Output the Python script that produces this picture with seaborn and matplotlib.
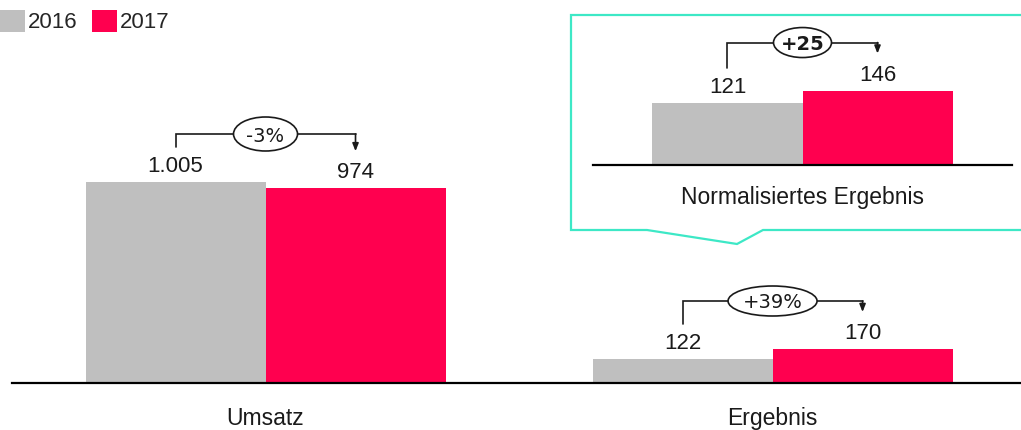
import matplotlib
matplotlib.use("Agg")
import pandas as pd
import matplotlib.pyplot as plt
import seaborn as sns
from matplotlib.patches import Ellipse
from matplotlib.lines import Line2D

# data
categories = ["Umsatz", "Ergebnis"]
years = ["2016", "2017"]
values_2016 = [1005, 122]
values_2017 = [974, 170]
changes = ["-3%", "+39%"]

norm_category = ["Normalisiertes Ergebnis"]
norm_2016 = [121]
norm_2017 = [146]
norm_change = "+25"

GREY = "#BFBFBF"
RED = "#FF004F"
CYAN = "#3DE8C6"
INK = "#1A1A1A"
W, H = 1021, 430


def fmt(v):
    return f"{int(round(v)):,}".replace(",", ".")


def to_frame(cats, a, b):
    return pd.DataFrame({
        "Kategorie": cats * 2,
        "Jahr": [years[0]] * len(cats) + [years[1]] * len(cats),
        "Wert": a + b,
    })


def px_units(ax):
    """Data units per pixel in x and y."""
    pos = ax.get_position()
    x0, x1 = ax.get_xlim()
    y0, y1 = ax.get_ylim()
    return (x1 - x0) / (pos.width * W), (y1 - y0) / (pos.height * H)


def bracket(ax, bar_a, bar_b, text, ell_w, ell_h, weight="normal"):
    ux, uy = px_units(ax)
    xa = bar_a.get_x() + bar_a.get_width() / 2
    ya = bar_a.get_height()
    xb = bar_b.get_x() + bar_b.get_width() / 2
    yb = bar_b.get_height()
    for x, y in ((xa, ya), (xb, yb)):
        ax.text(x, y + 10 * uy, fmt(y), ha="center", va="baseline",
                fontsize=16, color=INK)
    ca = ya + 18 * uy
    cb = yb + 18 * uy
    level = max(ca, cb) + 30 * uy
    ax.plot([xa, xa, xb], [ca + 17 * uy, level, level], color=INK, lw=1.2,
            solid_joinstyle="miter", clip_on=False)
    ax.annotate("", xy=(xb, cb + 19 * uy), xytext=(xb, level),
                arrowprops=dict(arrowstyle="-|>,head_length=0.45,head_width=0.18",
                                color=INK, lw=1.2, shrinkA=0, shrinkB=0),
                annotation_clip=False)
    mid = (xa + xb) / 2
    ax.add_patch(Ellipse((mid, level), ell_w * ux, ell_h * uy,
                         facecolor="white", edgecolor=INK, lw=1.2,
                         zorder=3, clip_on=False))
    ax.text(mid, level, text, ha="center", va="center_baseline", fontsize=14,
            family="DejaVu Sans", weight=weight, color=INK, zorder=4)


def style_axis(ax, pad):
    sns.despine(ax=ax, left=True)
    ax.spines["bottom"].set_color("black")
    ax.spines["bottom"].set_linewidth(1.6)
    ax.set_xlabel("")
    ax.set_ylabel("")
    ax.set_yticks([])
    ax.tick_params(axis="x", length=0, pad=pad, labelsize=16.5, colors=INK)
    ax.set_facecolor("none")


sns.set_style("white")
plt.rcParams["font.family"] = ["Liberation Sans", "DejaVu Sans"]

fig = plt.figure(figsize=(W / 100, H / 100), dpi=100)

# main chart
ax = fig.add_axes([12 / W, (H - 383) / H, 1 - 12 / W, 383 / H])
sns.barplot(data=to_frame(categories, values_2016, values_2017),
            x="Kategorie", y="Wert", hue="Jahr", palette=[GREY, RED],
            saturation=1, width=0.71, linewidth=0, ax=ax)
ax.set_xlim(-0.5, 1.49)
ax.set_ylim(0, 383 / 0.2)
style_axis(ax, pad=17)
handles, labels = ax.get_legend_handles_labels()
ax.get_legend().remove()

for i, txt in enumerate(changes):
    ell_w = 64 if i == 0 else 89
    ell_h = 34 if i == 0 else 30
    bracket(ax, ax.containers[0][i], ax.containers[1][i], txt, ell_w, ell_h)

# inset with normalised result
ins = fig.add_axes([593 / W, (H - 165) / H, 419 / W, 150 / H])
sns.barplot(data=to_frame(norm_category, norm_2016, norm_2017),
            x="Kategorie", y="Wert", hue="Jahr", palette=[GREY, RED],
            saturation=1, width=0.716, linewidth=0, legend=False, ax=ins)
ins.set_xlim(-0.5, 0.5)
ins.set_ylim(0, 150 / 0.51)
style_axis(ins, pad=15)
bracket(ins, ins.containers[0][0], ins.containers[1][0], norm_change, 58, 30,
        weight="bold")

# callout frame
box = [(1040, 15), (571, 15), (571, 230), (647, 230), (737, 244), (763, 230),
       (1040, 230)]
fig.add_artist(Line2D([p[0] / W for p in box], [1 - p[1] / H for p in box],
                      color=CYAN, lw=1.6, solid_joinstyle="miter"))

fig.legend(handles, labels, loc="upper left", bbox_to_anchor=(0, 1 - 10 / H),
           bbox_transform=fig.transFigure, ncol=2, frameon=False,
           fontsize=16, handlelength=1.12, handleheight=1.12,
           handletextpad=0.14, columnspacing=0.63, borderpad=0,
           borderaxespad=0)

fig.savefig("out.png", dpi=100)
